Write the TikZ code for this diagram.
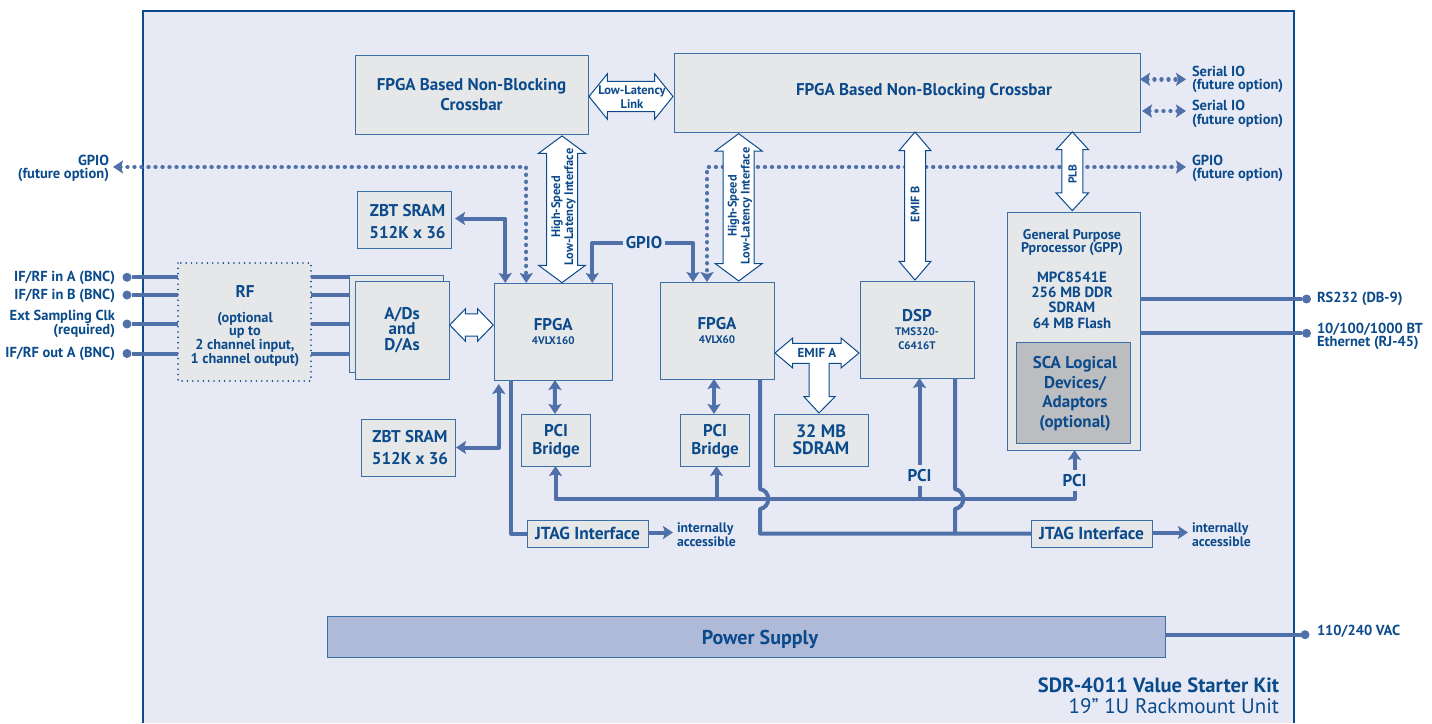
\documentclass[tikz,border=0pt]{standalone}
\usepackage{fontspec}
\setmainfont{PT Sans}
\usetikzlibrary{arrows.meta,shapes.arrows,calc}
\definecolor{txt}{HTML}{0B4A8B}
\definecolor{wire}{HTML}{4F70A8}
\definecolor{edge}{HTML}{3A70A5}
\definecolor{panel}{HTML}{E7EAF4}
\definecolor{boxfill}{HTML}{E6E7E9}
\definecolor{scafill}{HTML}{BBBDC1}
\definecolor{pwrfill}{HTML}{AEBAD8}
\newcommand\fsz[2]{\fontsize{#1}{#2}\selectfont\bfseries}
\newcommand\mkbox[7]{\node[boxnode,#6,minimum width={(#4-#2)*1pt},minimum height={(#5-#3)*1pt}] (#1) at ({(#2+#4)/2},{(#3+#5)/2}) {#7};}
\tikzset{
  boxnode/.style={rectangle,draw=edge,fill=boxfill,line width=1pt,inner sep=0pt,outer sep=0pt,text=txt,align=center},
  lab/.style={text=txt,inner sep=0pt,outer sep=0pt,align=center},
  labl/.style={text=txt,inner sep=0pt,outer sep=0pt,align=left,anchor=west},
  labr/.style={text=txt,inner sep=0pt,outer sep=0pt,align=right,anchor=east},
  ln/.style={line width=4pt,draw=wire,line join=round},
  tipend/.style={-{Stealth[length=10pt,width=13pt,inset=2pt]}},
  tipboth/.style={{Stealth[length=10pt,width=13pt,inset=2pt]}-{Stealth[length=10pt,width=13pt,inset=2pt]}},
  dots/.style={line width=4.4pt,draw=wire,line cap=round,dash pattern=on 0.01pt off 7pt},
  dot/.style={circle,fill=wire,inner sep=0pt,minimum size=9pt,outer sep=0pt},
  block/.style n args={4}{double arrow,draw=txt,fill=white,line width=1pt,inner xsep=0pt,outer sep=0pt,
    minimum height=#1,inner ysep=#2,double arrow head extend=#3,double arrow tip angle=#4},
  vert/.style={rotate=90},
  small/.style={font=\fsz{14.5}{13}},
  tiny/.style={font=\fsz{13.7}{12}},
}
\begin{document}
\begin{tikzpicture}[x=1pt,y=-1pt]
\useasboundingbox (0,0) rectangle (1432,723);
\fill[white] (0,0) rectangle (1432,723);
\fill[panel] (143,11) rectangle (1294,723);
\draw[line width=2.4pt,draw=txt] (143,723) -- (143,11) -- (1294,11) -- (1294,723);

% boxes
\mkbox{barA}{355}{55}{588}{134}{font=\fsz{17}{20.5}}{FPGA Based Non-Blocking\\Crossbar}
\mkbox{barB}{674}{53}{1140}{132}{}{}
\node[lab,font=\fsz{17}{20}] (barBtext) at (924,91.5) {FPGA Based Non-Blocking Crossbar};
\mkbox{zbtA}{357}{191}{451}{248}{}{}
\node[lab,font=\fsz{17}{22}] (zbtAtext) at (407.5,222) {ZBT SRAM\\512K x 36};
\mkbox{zbtB}{361}{419}{455}{476}{}{}
\node[lab,font=\fsz{17}{22}] (zbtBtext) at (410,448) {ZBT SRAM\\512K x 36};
\mkbox{rf}{178}{263}{311}{381}{draw=none}{}
\node[lab,font=\fsz{14.3}{13}] (rftext) at (245,326) {{\fsz{17}{13}RF}\\[12pt](optional\\up to\\2 channel input,\\1 channel output)};
\mkbox{adback}{349}{275}{443}{372}{}{}
\mkbox{ad}{355}{281}{449}{379}{font=\fsz{17}{15.5}}{A/Ds\\and\\D/As}
\mkbox{fpgaA}{494}{283}{612.5}{380}{font=\fsz{17}{14}}{FPGA\\{\fsz{11}{14}4VLX160}}
\mkbox{fpgaB}{660}{282}{774}{379}{font=\fsz{17}{14}}{FPGA\\{\fsz{11}{14}4VLX60}}
\mkbox{dsp}{860}{281}{974}{378}{font=\fsz{17}{14}}{DSP\\{\fsz{11}{13.5}TMS320-}\\{\fsz{11}{13.5}C6416T}}
\mkbox{pciA}{521}{414}{590}{466}{}{}
\node[lab,font=\fsz{17}{18.5}] (pciAtext) at (556,441) {PCI\\Bridge};
\mkbox{pciB}{680}{414}{749}{466}{}{}
\node[lab,font=\fsz{17}{18.5}] (pciBtext) at (715,441) {PCI\\Bridge};
\mkbox{sdram}{774}{414}{868}{466}{font=\fsz{18}{17}}{32 MB\\SDRAM}
\mkbox{jtagA}{527}{520}{648}{547}{font=\fsz{17.4}{16}}{JTAG Interface}
\mkbox{jtagB}{1031}{520}{1152}{547}{font=\fsz{17.4}{16}}{JTAG Interface}
\mkbox{gpp}{1007}{212}{1140}{450}{}{}
\mkbox{sca}{1016}{342}{1130}{443.5}{fill=scafill}{}
\node[lab,font=\fsz{17}{19.5}] (scatext) at (1075,394) {SCA Logical\\Devices/\\Adaptors\\(optional)};
\mkbox{pwr}{327}{616}{1165}{657}{fill=pwrfill}{}
\node[lab,font=\fsz{20}{20}] (pwrtext) at (760,639) {Power Supply};
\node[lab,font=\fsz{14}{13}] (gpptext) at (1072,243) {General Purpose\\Pprocessor (GPP)};
\node[lab,font=\fsz{14.8}{15.3}] (gppspec) at (1072,300) {MPC8541E\\256 MB DDR\\SDRAM\\64 MB Flash};
\draw[line width=1.7pt,draw=txt,line cap=round,dash pattern=on 0.01pt off 5.3pt] (rf.north west) rectangle (rf.south east);

% dotted connectors
\coordinate (gpioL) at (113,167);
\coordinate (gpioR) at (1186,167);
\coordinate (serA) at (1186,79.3);
\coordinate (serB) at (1186,111);
\draw[dots,tipboth] (gpioL) -| ([xshift=-27pt]fpgaA.north);
\draw[dots,tipboth] (gpioR) -| ([xshift=-10pt]fpgaB.north);
\draw[dots,tipboth] (barB.east |- serA) -- (serA);
\draw[dots,tipboth] ([xshift=2pt]barB.east |- serB) -- (serB);

% block arrows
\node[block={146.7pt}{15pt}{8pt}{107},vert] (hsA) at (562,209.3) {};
\node[block={147.3pt}{15pt}{8pt}{107},vert] (hsB) at (738.7,207.3) {};
\node[block={148pt}{10pt}{5.5pt}{81},vert] (emifB) at (915,206) {};
\node[block={78.7pt}{10pt}{5.7pt}{85},vert] (plb) at (1072.3,171.3) {};
\node[block={84pt}{14.7pt}{7.5pt}{102}] (lowlat) at (631,96.5) {};
\node[block={43.5pt}{10.7pt}{5pt}{92}] (adlink) at (471.5,325) {};
\draw[draw=txt,fill=white,line width=1pt,line join=miter] (775,353) -- (792.7,338) -- (792.7,343.3) -- (841,343.3) -- (841,338) -- (859,353) -- (841,368) -- (841,363.3) -- (829,363.3) -- (829,396.7) -- (835,396.7) -- (819,413) -- (804,396.7) -- (809,396.7) -- (809,363.3) -- (792.7,363.3) -- (792.7,368) -- cycle;
\node[lab,vert,font=\fsz{12.4}{13}] (hsAtext) at (563.5,207) {High-Speed\\Low-Latency Interface};
\node[lab,vert,font=\fsz{12.4}{13}] (hsBtext) at (740,206) {High-Speed\\Low-Latency Interface};
\node[lab,vert,font=\fsz{12.2}{13}] (emifBtext) at (915,204) {EMIF B};
\node[lab,vert,font=\fsz{11.5}{13}] (plbtext) at (1072.5,174) {PLB};
\node[lab,font=\fsz{12.5}{13.5}] (lowlattext) at (632,97) {Low-Latency\\Link};
\node[lab,font=\fsz{13}{13}] (emifAtext) at (817,353) {EMIF A};

% solid connectors: memory and GPIO
\draw[ln,tipboth] ([xshift=4pt,yshift=1pt]zbtA.east) -| ([xshift=-48pt]fpgaA.north);
\draw[ln,tipboth] ([xshift=1pt]zbtB.east) -| ([xshift=-54.5pt,yshift=-4pt]fpgaA.south);
\node[lab,font=\fsz{17}{17},minimum width=42pt] (gpiolink) at (644,243) {GPIO};
\draw[ln,tipend] (gpiolink.west) -| ([xshift=39pt]fpgaA.north);
\draw[ln,tipend] (gpiolink.east) -| ([xshift=-24pt]fpgaB.north);
\draw[ln,tipboth] ([xshift=1.7pt]fpgaA.south) -- ([xshift=-.5pt]pciA.north);
\draw[ln,tipboth] ([xshift=-3pt]fpgaB.south) -- ([xshift=-.5pt]pciB.north);

% PCI bus
\node[lab,font=\fsz{17}{16},minimum height=21pt] (pcidsp) at (919.5,475.5) {PCI};
\node[lab,font=\fsz{17}{16},minimum height=21pt] (pcigpp) at (1074.5,480.5) {PCI};
\coordinate (busL) at ($(pciA.south)+(0,33)$);
\draw[ln,tipend] (pcigpp.south) |- (busL) -- (pciA.south);
\draw[ln,tipend] (pcigpp.north) -- (pcigpp.north |- gpp.south);
\draw[ln,tipend] ([xshift=2pt]pciB.south |- busL) -- ([xshift=2pt]pciB.south);
\draw[ln] (pcidsp.south |- busL) -- (pcidsp.south);
\draw[ln,tipend] (pcidsp.north) -- (pcidsp.north |- dsp.south);

% JTAG links
\draw[ln] ([xshift=-42pt]fpgaA.south) |- (jtagA.west);
\draw[ln,tipend] ([yshift=1pt]jtagA.east) -- ++(25,0) coordinate (jtagAend);
\draw[ln] ([xshift=43pt]fpgaB.south) -- ++(0,110) .. controls +(11,2) and +(11,-2) .. ++(0,20) |- (jtagB.west);
\draw[ln] ([xshift=38pt]dsp.south) -- ++(0,111) .. controls +(11,2) and +(11,-2) .. ++(0,20) -- ++(0,24.5);
\draw[ln,tipend] ([yshift=1pt]jtagB.east) -- ++(36,0) coordinate (jtagBend);
\node[labl,tiny] (intA) at (677,534.5) {internally\\accessible};
\node[labl,tiny] (intB) at (1192,534.5) {internally\\accessible};

% external I/O
\node[dot] (inA) at (127,277.3) {};
\node[dot] (inB) at (127,295) {};
\node[dot] (clk) at (127,324) {};
\node[dot] (outA) at (127,353.5) {};
\foreach \p in {inA,inB,clk,outA}{
  \draw[ln] (\p) -- (\p -| rf.west);
  \draw[ln] (\p -| rf.east) -- (\p -| adback.west);
}
\node[dot] (rs) at (1306.5,299) {};
\node[dot] (eth) at (1306.5,333.3) {};
\node[dot] (vac) at (1305,634.7) {};
\draw[ln] (rs -| gpp.east) -- (rs);
\draw[ln] (eth -| gpp.east) -- (eth);
\draw[ln] (vac -| pwr.east) -- (vac);

% outside labels
\node[labr,small] (lgpioL) at (109,168.5) {GPIO\\(future option)};
\node[labr,small] (lina) at (115,278) {IF/RF in A (BNC)};
\node[labr,small] (linb) at (115,296) {IF/RF in B (BNC)};
\node[labr,small] (lclk) at (115,324) {Ext Sampling Clk\\(required)};
\node[labr,small] (louta) at (115,354) {IF/RF out A (BNC)};
\node[labl,small] (lserA) at (1192,79.5) {Serial IO\\(future option)};
\node[labl,font=\fsz{14.5}{14}] (lserB) at (1192,114) {Serial IO\\(future option)};
\node[labl,small] (lgpioR) at (1192,168.5) {GPIO\\(future option)};
\node[labl,small] (lrs) at (1317,299) {RS232 (DB-9)};
\node[labl,small] (leth) at (1317,336.5) {10/100/1000 BT\\Ethernet (RJ-45)};
\node[labl,small] (lvac) at (1317,631) {110/240 VAC};
\node[labr,font=\fsz{20.6}{20}] (title) at (1279,685) {SDR-4011 Value Starter Kit};
\node[labr,font=\fontsize{21}{20}\selectfont] (subtitle) at (1279,706) {19" 1U Rackmount Unit};
\end{tikzpicture}
\end{document}
